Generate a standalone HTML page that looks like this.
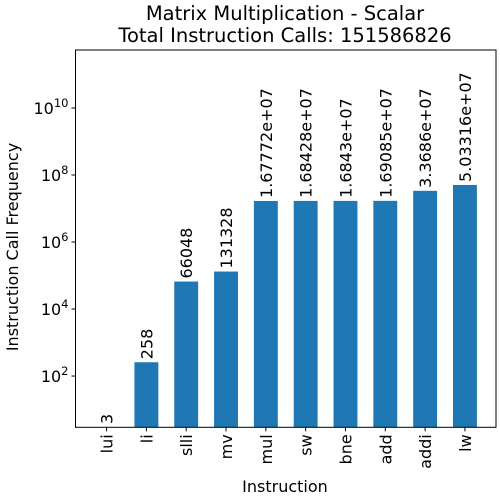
<!DOCTYPE html>
<html><head><meta charset="utf-8"><style>
body{margin:0;background:#fff;}
svg{display:block;font-family:"DejaVu Sans","Liberation Sans",sans-serif;}
</style></head><body>
<svg id="chart" width="500" height="500" viewBox="0 0 500 500">
<text x="285" y="20" font-size="19.5" text-anchor="middle" fill="#000">Matrix Multiplication - Scalar</text>
<text x="285" y="42" font-size="19.5" text-anchor="middle" fill="#000">Total Instruction Calls: 151586826</text>
<g id="bars"></g>
<g id="yaxis"></g>
<g id="xaxis"></g>
<rect x="75.5" y="50" width="420.5" height="377.3" fill="none" stroke="#000" stroke-width="1"/>
<text x="285" y="492" font-size="16" text-anchor="middle">Instruction</text>
<text transform="translate(18,247) rotate(-90)" font-size="16" text-anchor="middle">Instruction Call Frequency</text>
</svg>
<script>
const categories=["lui","li","slli","mv","mul","sw","bne","add","addi","lw"];
const values=[3,258,66048,131328,16777200,16842800,16843000,16908500,33686000,50331600];
const valueLabels=["3","258","66048","131328","1.67772e+07","1.68428e+07","1.6843e+07","1.69085e+07","3.3686e+07","5.03316e+07"];
const yTickExps=[2,4,6,8,10];
const NS="http://www.w3.org/2000/svg";
const L=75.5,R=496,T=50,B=427.3;
const logMin=0.47,logMax=11.73;
function y(v){return B-(Math.log10(v)-logMin)/(logMax-logMin)*(B-T);}
const xMin=-0.78,xMax=categories.length-1+0.78;
function x(i){return L+(i-xMin)/(xMax-xMin)*(R-L);}
const bw=0.6*(R-L)/(xMax-xMin);
function mk(tag,attrs,parent){const e=document.createElementNS(NS,tag);for(const k in attrs)e.setAttribute(k,attrs[k]);parent.appendChild(e);return e;}
const gb=document.getElementById('bars'),gy=document.getElementById('yaxis'),gx=document.getElementById('xaxis');
categories.forEach((c,i)=>{
 const yt=Math.min(y(values[i]),B);
 const r=mk('rect',{x:x(i)-bw/2,y:yt,width:bw,height:B-yt,fill:'#1f77b4'},gb);
 
 
 const t=mk('text',{transform:`translate(${x(i)+6},${yt-3}) rotate(-90)`,'font-size':'16',fill:'#000'},gb);
 t.textContent=valueLabels[i];
 
 
 mk('line',{x1:x(i),x2:x(i),y1:B,y2:B+4,stroke:'#000'},gx);
 const xl=mk('text',{transform:`translate(${x(i)+6},${B+7}) rotate(-90)`,'font-size':'16','text-anchor':'end'},gx);
 xl.textContent=c;
 
 
});
yTickExps.forEach(e=>{
 const yy=y(Math.pow(10,e));
 mk('line',{x1:L-4,x2:L,y1:yy,y2:yy,stroke:'#000'},gy);
 const t=mk('text',{x:L-7,y:yy+6,'font-size':'16','text-anchor':'end'},gy);
 t.innerHTML=`10<tspan dy="-7" font-size="11.5">${e}</tspan>`;
 
 
});
</script>
</body></html>
